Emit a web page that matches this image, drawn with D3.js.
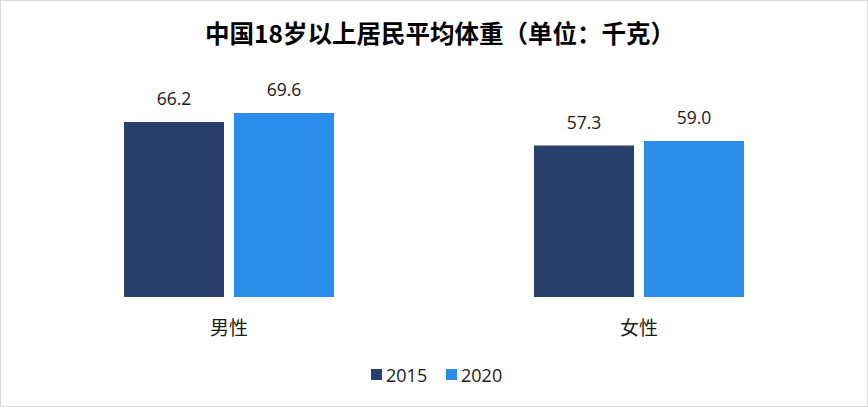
<!DOCTYPE html>
<html><head><meta charset="utf-8">
<script src="https://cdn.jsdelivr.net/npm/d3@7"></script>
<style>html,body{margin:0;padding:0;background:#fff;}svg{display:block;}</style>
</head><body>
<script>
const title = "中国18岁以上居民平均体重（单位：千克）";
const categories = ["男性", "女性"];
const years = ["2015", "2020"];
const values2015 = [66.2, 57.3];
const values2020 = [69.6, 59.0];
const colors = ["#293F6B", "#2A8DEA"];

const W = 868, H = 407;
const font = "'Noto Sans CJK SC', 'Noto Sans', sans-serif";
const numFont = "'Open Sans', 'Noto Sans CJK SC', sans-serif";
const svg = d3.select("body").append("svg").attr("width", W).attr("height", H);

svg.append("rect").attr("x", 0.5).attr("y", 0.5).attr("width", W - 1).attr("height", H - 1)
  .attr("fill", "#fff").attr("stroke", "#d9d9d9");

const data = categories.map((c, i) => ({cat: c, vals: [values2015[i], values2020[i]]}));

const x0 = d3.scaleBand().domain(categories).range([24, 844]).paddingInner(200/410).paddingOuter(100/410);
const x1 = d3.scaleBand().domain(years).range([0, x0.bandwidth()]).paddingInner(10/110);
const y = d3.scaleLinear().domain([0, 80]).range([297, 85.5]);

svg.append("text").attr("x", 440).attr("y", 43).attr("text-anchor", "middle")
  .attr("font-family", font).attr("font-size", 24.5).attr("font-weight", "bold").attr("fill", "#000")
  .text(title);

const g = svg.selectAll("g.cat").data(data).enter().append("g")
  .attr("transform", d => `translate(${x0(d.cat)},0)`);

g.selectAll("rect").data(d => d.vals.map((v, j) => ({year: years[j], v, j}))).enter().append("rect")
  .attr("x", d => x1(d.year)).attr("width", x1.bandwidth())
  .attr("y", d => y(d.v)).attr("height", d => y(0) - y(d.v))
  .attr("fill", d => colors[d.j]);

g.selectAll("text.val").data(d => d.vals.map((v, j) => ({year: years[j], v, j}))).enter().append("text")
  .attr("class", "val")
  .attr("x", d => x1(d.year) + x1.bandwidth() / 2).attr("y", d => y(d.v) - 17)
  .attr("text-anchor", "middle").attr("font-family", numFont).attr("font-size", 17.5).attr("fill", "#1a1a1a")
  .text(d => d.v.toFixed(1));

svg.selectAll("text.cat").data(categories).enter().append("text")
  .attr("class", "cat")
  .attr("x", d => x0(d) + x0.bandwidth() / 2).attr("y", 335)
  .attr("text-anchor", "middle").attr("font-family", font).attr("font-size", 19).attr("fill", "#1a1a1a")
  .text(d => d);

const legendX = [371, 446];
const lg = svg.selectAll("g.leg").data(years).enter().append("g")
  .attr("transform", (d, i) => `translate(${legendX[i]},369)`);
lg.append("rect").attr("width", 11).attr("height", 11).attr("fill", (d, i) => colors[i]);
lg.append("text").attr("x", 15).attr("y", 12.5).attr("font-family", numFont).attr("font-size", 18)
  .attr("fill", "#1a1a1a").text(d => d);
</script>
</body></html>
